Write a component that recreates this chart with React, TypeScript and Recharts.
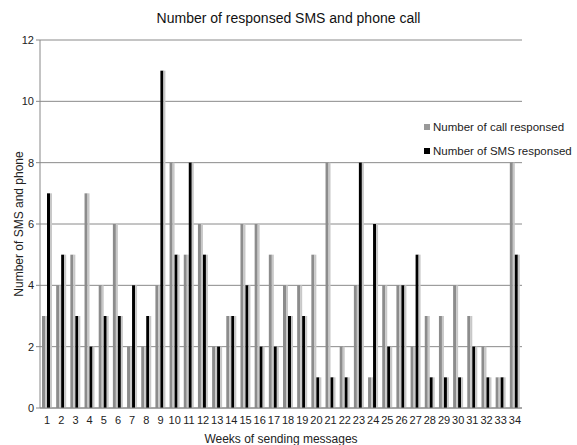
import React from "react";
import { Bar, BarChart, CartesianGrid, Label, Legend, XAxis, YAxis } from "recharts";

const weeks = Array.from({ length: 34 }, (_, i) => String(i + 1));
const callResponded = [3, 4, 5, 7, 4, 6, 2, 2, 4, 8, 5, 6, 2, 3, 6, 6, 5, 4, 4, 5, 8, 2, 4, 1, 4, 4, 2, 3, 3, 4, 3, 2, 1, 8];
const smsResponded = [7, 5, 3, 2, 3, 3, 4, 3, 11, 5, 8, 5, 2, 3, 4, 2, 2, 3, 3, 1, 1, 1, 8, 6, 2, 4, 5, 1, 1, 1, 2, 1, 1, 5];
const yTicks = [0, 2, 4, 6, 8, 10, 12];

const data = weeks.map((w, i) => ({
	week: w,
	call: callResponded[i],
	sms: smsResponded[i],
}));

const font = "'Liberation Sans', Arial, sans-serif";

// bar with a light side strip, like the old 3D office style
const shadedBar = (color: string) => (props: any) => {
	const { x, y, width, height } = props;
	if (!height || height <= 0) return <g />;
	const core = width * 0.6;
	return (
		<g>
			<rect x={x} y={y} width={core} height={height} fill={color} />
			<rect x={x + core} y={y} width={width - core} height={height} fill="#c8c8c8" />
		</g>
	);
};

const LegendContent = () => (
	<div style={{ fontFamily: font, fontSize: 11.5, color: "#222" }}>
		{[
			{ name: "Number of call responsed", color: "#999" },
			{ name: "Number of SMS responsed", color: "#000" },
		].map((it) => (
			<div key={it.name} style={{ display: "flex", alignItems: "center", height: 24 }}>
				<span style={{ width: 6, height: 6, background: it.color, marginRight: 3, display: "inline-block" }} />
				{it.name}
			</div>
		))}
	</div>
);

export default function App() {
	return (
		<div style={{ position: "absolute", left: 0, top: 0, width: 577, height: 445, background: "#fff" }}>
			<div
				style={{
					position: "absolute",
					top: 10,
					left: 0,
					width: 577,
					textAlign: "center",
					fontFamily: font,
					fontSize: 14,
					color: "#111",
				}}
			>
				Number of responsed SMS and phone call
			</div>
			<BarChart
				width={577}
				height={445}
				data={data}
				margin={{ top: 40, right: 55, left: 8, bottom: 0 }}
				barSize={5}
				barGap={0}
			>
				<CartesianGrid vertical={false} stroke="#8a8a8a" strokeDasharray="" />
				<XAxis
					dataKey="week"
					interval={0}
					tickLine={false}
					axisLine={{ stroke: "#888" }}
					tick={{ fontSize: 11, fontFamily: font, fill: "#222" }}
					tickMargin={2}
					height={37}
				>
					<Label
						value="Weeks of sending messages"
						position="insideBottom"
						offset={2}
						style={{ fontSize: 12, fontFamily: font, fill: "#222" }}
					/>
				</XAxis>
				<YAxis
					domain={[0, 12]}
					ticks={yTicks}
					width={32}
					tickSize={4}
					tickLine={{ stroke: "#888" }}
					axisLine={{ stroke: "#888" }}
					tick={{ fontSize: 11, fontFamily: font, fill: "#222" }}
				>
					<Label
						value="Number of SMS and phone"
						angle={-90}
						position="insideLeft"
						offset={11}
						style={{ fontSize: 12, fontFamily: font, fill: "#222", textAnchor: "middle" }}
					/>
				</YAxis>
				<Legend
					layout="vertical"
					align="center"
					verticalAlign="middle"
					content={<LegendContent />}
					wrapperStyle={{ left: 424, top: 115, width: 153 }}
				/>
				<Bar dataKey="call" name="Number of call responsed" fill="#999" shape={shadedBar("#8c8c8c")} isAnimationActive={false} />
				<Bar dataKey="sms" name="Number of SMS responsed" fill="#000" shape={shadedBar("#000")} isAnimationActive={false} />
			</BarChart>
		</div>
	);
}
